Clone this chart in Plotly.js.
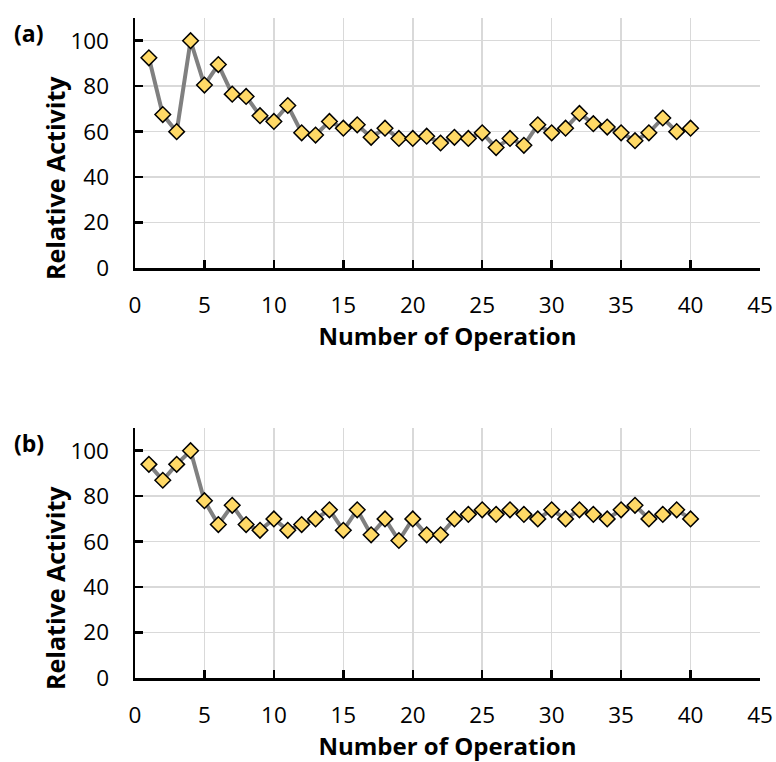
<!DOCTYPE html>
<html><head><meta charset="utf-8">
<script src="https://cdn.plot.ly/plotly-3.0.1.min.js"></script>
<style>html,body{margin:0;padding:0;background:#fff}</style>
</head><body>
<div id="chart" style="width:776px;height:762px"></div>
<script>
const operations = [1,2,3,4,5,6,7,8,9,10,11,12,13,14,15,16,17,18,19,20,21,22,23,24,25,26,27,28,29,30,31,32,33,34,35,36,37,38,39,40];
const activityA = [92.5,67.5,60,100,80.5,89.5,76.5,75.5,67,64.5,71.5,59.5,58.5,64.5,61.5,63,57.5,61.5,57,57,58,55,57.5,57,59.5,53,57,54,63,59.5,61.5,68,63.5,62,59.5,56,59.5,66,60,61.5];
const activityB = [94,87,94,100,78,67.5,76,67.5,65,70,65,67.5,70,74,65,74,63,70,60.5,70,63,63,70,72,74,72,74,72,70,74,70,74,72,70,74,76,70,72,74,70];
const xTicks = [0,5,10,15,20,25,30,35,40,45];
const yTicks = [0,20,40,60,80,100];
const panelLabels = ['(a)','(b)'];
const xTitle = 'Number of Operation';
const yTitle = 'Relative Activity';

const font = '"Open Sans", "Noto Sans", sans-serif';
function trace(y, xa, ya){
  return {x: operations, y: y, xaxis: xa, yaxis: ya, type:'scatter', mode:'lines+markers',
    line:{color:'#808080', width:4},
    marker:{symbol:'diamond', size:12, color:'#FFD966', line:{color:'#000', width:1.5}},
    hoverinfo:'x+y', showlegend:false};
}
function xax(anchor){
  return {domain:[0,1], anchor:anchor, range:[0,45], tickvals:xTicks, ticktext:xTicks.map(String),
    showgrid:true, gridcolor:'#d9d9d9', gridwidth:1.5, zeroline:false,
    showline:true, linecolor:'#000', linewidth:2.5, ticks:'inside', ticklen:8, tickwidth:2.5, tickcolor:'#000',
    ticklabelstandoff:15, tickfont:{family:font, size:22.5, color:'#000'},
    title:{text:'<b>'+xTitle+'</b>', font:{family:font, size:24, color:'#000'}, standoff:6}};
}
function yax(dom, anchor){
  return {domain:dom, anchor:anchor, range:[0,110], tickvals:yTicks, ticktext:yTicks.map(String),
    showgrid:true, gridcolor:'#d9d9d9', gridwidth:1.5, zeroline:false,
    showline:true, linecolor:'#000', linewidth:2.5, ticks:'inside', ticklen:8, tickwidth:2.5, tickcolor:'#000',
    ticklabelstandoff:19, tickfont:{family:font, size:22.5, color:'#000'}};
}
function yTitleAnn(yc){
  return {text:'<b>'+yTitle+'</b>', xref:'paper', yref:'paper', x:-0.128, y:yc, xanchor:'center', yanchor:'middle',
    textangle:-90, showarrow:false, font:{family:font, size:25, color:'#000'}};
}
function panelAnn(label, yc){
  return {text:'<b>'+label+'</b>', xref:'paper', yref:'paper', x:-0.197, y:yc, xanchor:'left', yanchor:'middle',
    showarrow:false, font:{family:font, size:23, color:'#000'}};
}
const layout = {
  width:776, height:762, paper_bgcolor:'#fff', plot_bgcolor:'#fff',
  margin:{l:135, r:16, t:18, b:84},
  xaxis: xax('y'),
  yaxis: yax([0.6212,1],'x'),
  xaxis2: xax('y2'),
  yaxis2: yax([0,0.3788],'x2'),
  annotations:[
    panelAnn(panelLabels[0], 0.977),
    panelAnn(panelLabels[1], 0.356),
    yTitleAnn(0.7576),
    yTitleAnn(0.1364)
  ]
};
Plotly.newPlot('chart', [trace(activityA,'x','y'), trace(activityB,'x2','y2')], layout, {displayModeBar:false, staticPlot:true});
</script>
</body></html>
